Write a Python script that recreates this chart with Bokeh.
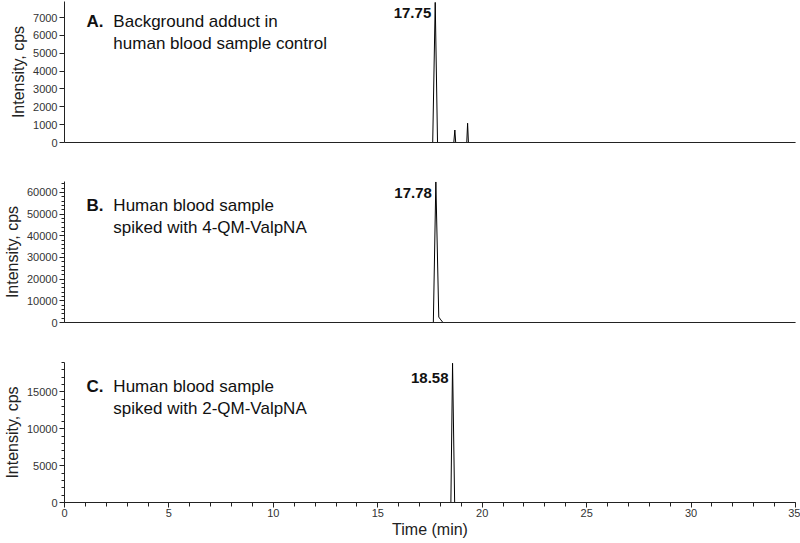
from bokeh.plotting import figure
from bokeh.layouts import column
from bokeh.models import Range1d, SingleIntervalTicker, FixedTicker, Label
from bokeh.embed import file_html
from bokeh.resources import INLINE

# ---- data ----
a_time = [0, 17.63, 17.75, 17.86, 18.64, 18.69, 18.73, 19.26, 19.30, 19.34, 35]
a_int = [0, 0, 7850, 0, 0, 700, 0, 0, 1080, 0, 0]
b_time = [0, 17.66, 17.78, 17.92, 18.02, 18.12, 35]
b_int = [0, 0, 64800, 2500, 1200, 0, 0]
c_time = [0, 18.50, 18.58, 18.68, 35]
c_int = [0, 0, 18900, 0, 0]

peaks = ["17.75", "17.78", "18.58"]
peak_x = [17.75, 17.78, 18.58]
letters = ["A.", "B.", "C."]
titles1 = ["Background adduct in", "Human blood sample", "Human blood sample"]
titles2 = ["human blood sample control", "spiked with 4-QM-ValpNA", "spiked with 2-QM-ValpNA"]
ymax = [7900, 65000, 19000]
yint = [1000, 10000, 5000]
yminor = [0, 5, 5]

FONT = "Liberation Sans"
W = 800
heights = [160, 180, 203]
btop = [1, 21, 22]
bbot = [18, 18, 41]
# label vertical positions in data units
line1_y = [6780, 53900, 15740]
line2_y = [5550, 43800, 12760]
peak_lab_y = [7280, 59470, 16830]

series = [(a_time, a_int), (b_time, b_int), (c_time, c_int)]
figs = []
for i in range(3):
    show_x = (i == 2)
    p = figure(width=W, height=heights[i], output_backend="svg", toolbar_location=None,
               x_range=Range1d(0, 35), y_range=Range1d(0, ymax[i]),
               min_border_left=63, min_border_right=5,
               min_border_top=btop[i], min_border_bottom=bbot[i])
    p.outline_line_color = None
    p.grid.visible = False
    t, v = series[i]
    p.line(t, v, line_color="black", line_width=1)

    ya = p.yaxis[0]
    ya.ticker = SingleIntervalTicker(interval=yint[i], num_minor_ticks=yminor[i])
    ya.axis_label = "Intensity, cps"
    ya.axis_label_text_font = FONT
    ya.axis_label_text_font_size = "16px"
    ya.axis_label_text_font_style = "normal"
    ya.axis_label_text_color = "#222"
    ya.axis_label_standoff = 3
    ya.major_label_text_font = FONT
    ya.major_label_text_font_size = "11px"
    ya.major_label_text_color = "#333"
    ya.major_label_standoff = 2
    ya.major_tick_out = 5
    ya.major_tick_in = 0
    ya.minor_tick_out = 3
    ya.minor_tick_in = 0
    ya.axis_line_color = "#222"
    ya.major_tick_line_color = "#222"
    ya.minor_tick_line_color = "#222"

    xa = p.xaxis[0]
    xa.axis_line_color = "#222"
    if show_x:
        xa.ticker = SingleIntervalTicker(interval=5, num_minor_ticks=5)
        xa.axis_label = "Time (min)"
        xa.axis_label_text_font = FONT
        xa.axis_label_text_font_size = "16px"
        xa.axis_label_text_font_style = "normal"
        xa.axis_label_text_color = "#222"
        xa.axis_label_standoff = 1
        xa.major_label_text_font = FONT
        xa.major_label_text_font_size = "11px"
        xa.major_label_text_color = "#333"
        xa.major_label_standoff = 1
        xa.major_tick_out = 5
        xa.major_tick_in = 0
        xa.minor_tick_out = 4
        xa.minor_tick_in = 0
        xa.major_tick_line_color = "#222"
        xa.minor_tick_line_color = "#222"
    else:
        xa.ticker = FixedTicker(ticks=[])
        xa.major_label_text_font_size = "0px"
        xa.major_tick_out = 0
        xa.minor_tick_out = 0

    p.add_layout(Label(x=1.05, y=line1_y[i], text=letters[i], text_font=FONT,
                       text_font_size="17px", text_font_style="bold",
                       text_baseline="middle", text_align="left", text_color="#111"))
    p.add_layout(Label(x=2.34, y=line1_y[i], text=titles1[i], text_font=FONT,
                       text_font_size="17px", text_baseline="middle",
                       text_align="left", text_color="#111"))
    p.add_layout(Label(x=2.34, y=line2_y[i], text=titles2[i], text_font=FONT,
                       text_font_size="17px", text_baseline="middle",
                       text_align="left", text_color="#111"))
    p.add_layout(Label(x=peak_x[i], x_offset=-4, y=peak_lab_y[i], text=peaks[i],
                       text_font=FONT, text_font_size="15px", text_font_style="bold",
                       text_baseline="middle", text_align="right", text_color="#111"))
    figs.append(p)

layout = column(*figs, spacing=0)
open("out.html", "w").write(file_html(layout, INLINE))
